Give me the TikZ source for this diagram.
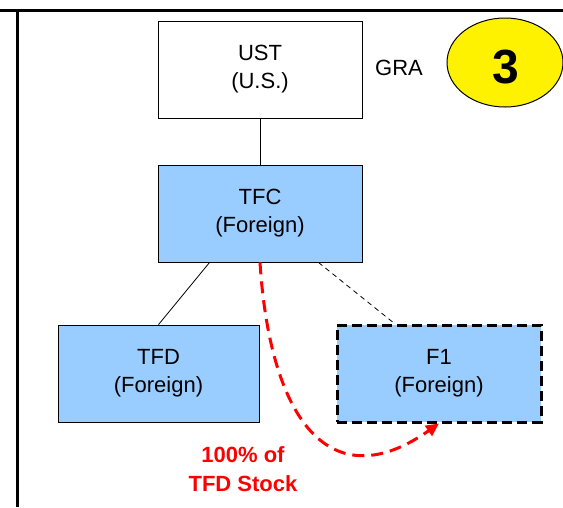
\documentclass[tikz,border=0pt]{standalone}
\usepackage{fontspec}
\setmainfont{Liberation Sans}
\usetikzlibrary{shapes.geometric, positioning, arrows.meta}

\definecolor{entblue}{RGB}{153,204,255}

\tikzset{
  entity/.style={draw=black, line width=0.8pt, minimum width=204pt, minimum height=97pt,
    inner sep=0pt, align=center, font=\fontsize{22}{28}\selectfont},
  foreign/.style={entity, fill=entblue},
  hypo/.style={foreign, line width=3pt, dash pattern=on 10pt off 5pt},
}

\begin{document}
\begin{tikzpicture}[x=1pt, y=-1pt]
  \useasboundingbox (0,0) rectangle (563,507);

  % Frame: top rule and left rule
  \draw[line width=3pt] (0,10.5) -- (563,10.5);
  \draw[line width=3pt] (17.5,10.5) -- (17.5,507);

  % Entity boxes
  \node[entity] (ust) at (260,69.5) {UST\\(U.S.)};
  \node[foreign] (tfc) at (260,213.5) {TFC\\(Foreign)};
  \node[foreign, minimum width=201pt] (tfd) at (158.5,373.5) {TFD\\(Foreign)};
  \node[hypo] (f1) at (439,373.5) {F1\\(Foreign)};

  % Step marker
  \node[font=\fontsize{22}{26}\selectfont] (gra) at (399,68) {GRA};
  \node[ellipse, draw=black, line width=1pt, fill=yellow, minimum width=116pt,
    minimum height=89pt, inner sep=0pt] (step3) at (505,62.5) {};
  \node[font=\fontsize{48}{50}\selectfont\bfseries] (num) at (506,67.5) {3};

  % Ownership lines
  \draw[line width=0.8pt] (ust.south) -- (tfc.north);
  \draw[line width=0.8pt] ([xshift=52pt]tfc.south west) -- (tfd.north);
  \draw[line width=0.8pt, dash pattern=on 5pt off 4pt]
    ([xshift=-44pt]tfc.south east) -- ([xshift=59pt]f1.north west);

  % Transfer of stock
  \draw[red, line width=3pt, dash pattern=on 12pt off 7pt, -{Triangle[length=13pt,width=12pt]}]
    (tfc.south) .. controls (270,420) and (330,500) .. (f1.south);
  \node[red, align=center, font=\fontsize{22}{29}\selectfont\bfseries]
    (xfer) at (243,469) {100\% of\\TFD Stock};
\end{tikzpicture}
\end{document}
